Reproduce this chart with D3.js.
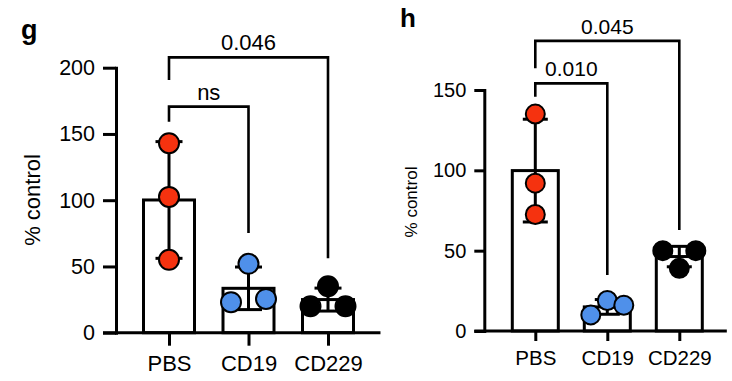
<!DOCTYPE html>
<html>
<head>
<meta charset="utf-8">
<script src="https://cdn.jsdelivr.net/npm/d3@7"></script>
<style>
html,body{margin:0;padding:0;background:#fff;}
svg{display:block;font-family:"Liberation Sans",Arial,Helvetica,sans-serif;}
</style>
</head>
<body>
<svg id="chart" width="732" height="381"></svg>
<script>
// ---------- data ----------
const categories = ["PBS", "CD19", "CD229"];
const yTicksG = [0, 50, 100, 150, 200];
const yTicksH = [0, 50, 100, 150];
// replicate values (% control), panel g
const gPBS = [143, 102.5, 55];
const gCD19 = [52, 23, 25.5];
const gCD229 = [20, 35, 20];
// replicate values (% control), panel h
const hPBS = [135, 92, 72.5];
const hCD19 = [10, 19, 16];
const hCD229 = [50, 39, 50];
// significance brackets: [from, to, yLine, yLeftEnd, yRightEnd, label] in data units
const gBrackets = [["PBS", "CD19", 170.6, 159.2, 75.2, "ns"], ["PBS", "CD229", 207.8, 190.7, 56.2, "0.046"]];
const hBrackets = [["PBS", "CD19", 154.1, 145.8, 34.8, "0.010"], ["PBS", "CD229", 180.6, 163.5, 62.9, "0.045"]];
const dotColors = ["#f5320f", "#4f90ea", "#000000"];

const svg = d3.select("#chart");

function panel(cfg) {
  const g = svg.append("g");
  const y = d3.scaleLinear().domain([0, cfg.yMax]).range([cfg.y0, cfg.yTop]);
  const x = d3.scalePoint().domain(categories).range([cfg.x0, cfg.x1]);
  const step = x.step();
  const sw = 3;

  // panel letter
  g.append("text").attr("x", cfg.letterX).attr("y", cfg.letterY)
    .attr("font-weight", "bold").attr("font-size", cfg.letterSize).text(cfg.letter);

  // bars
  const groups = categories.map((c, i) => ({c, vals: cfg.data[i], color: dotColors[i]}));
  groups.forEach(gr => {
    gr.mean = d3.mean(gr.vals);
    gr.sd = d3.deviation(gr.vals);
  });
  g.selectAll("rect.bar").data(groups).join("rect")
    .attr("x", d => x(d.c) - cfg.barW / 2)
    .attr("y", d => y(d.mean))
    .attr("width", cfg.barW)
    .attr("height", d => y(0) - y(d.mean))
    .attr("fill", "#fff").attr("stroke", "#000").attr("stroke-width", sw);

  // axes
  const yAxis = d3.axisLeft(y).tickValues(cfg.yTicks).tickSize(cfg.tickLen).tickPadding(cfg.tickPad).tickSizeOuter(0);
  const ya = g.append("g").attr("transform", `translate(${cfg.axisX},0)`).call(yAxis);
  ya.select(".domain").attr("stroke-width", sw).attr("stroke-linecap", "square");
  ya.selectAll(".tick line").attr("stroke-width", sw);
  ya.selectAll(".tick text").attr("font-size", cfg.tickFont).attr("fill", "#000")
    .attr("font-family", "Liberation Sans, Arial, sans-serif");

  // x axis line
  g.append("line").attr("x1", cfg.axisX - cfg.tickLen).attr("x2", cfg.x1 + step * 0.66)
    .attr("y1", y(0)).attr("y2", y(0)).attr("stroke", "#000").attr("stroke-width", sw);
  const xAxis = d3.axisBottom(x).tickSize(cfg.tickLen).tickPadding(cfg.xLabPad).tickSizeOuter(0);
  const xa = g.append("g").attr("transform", `translate(0,${y(0)})`).call(xAxis);
  xa.select(".domain").remove();
  xa.selectAll(".tick line").attr("stroke-width", sw);
  xa.selectAll(".tick text").attr("font-size", cfg.xFont).attr("fill", "#000")
    .attr("font-family", "Liberation Sans, Arial, sans-serif");

  // y label
  g.append("text").attr("transform", `translate(${cfg.ylabX},${cfg.ylabY}) rotate(-90)`)
    .attr("text-anchor", "middle").attr("font-size", cfg.ylabFont).text("% control");

  // brackets
  cfg.brackets.forEach(b => {
    const xa1 = x(b[0]), xa2 = x(b[1]);
    const yl = y(b[2]);
    g.append("path")
      .attr("d", `M${xa1},${y(b[3])}V${yl}H${xa2}V${y(b[4])}`)
      .attr("fill", "none").attr("stroke", "#000").attr("stroke-width", 2.6);
    g.append("text").attr("x", (xa1 + xa2) / 2).attr("y", yl - 7)
      .attr("text-anchor", "middle").attr("font-size", cfg.annFont).text(b[5]);
  });

  // error bars (mean ± SD)
  groups.forEach(gr => {
    const cx = x(gr.c);
    const lo = y(gr.mean - gr.sd), hi = y(gr.mean + gr.sd);
    g.append("line").attr("x1", cx).attr("x2", cx).attr("y1", lo).attr("y2", hi)
      .attr("stroke", "#000").attr("stroke-width", sw);
    [lo, hi].forEach(yy => g.append("line")
      .attr("x1", cx - cfg.capW / 2).attr("x2", cx + cfg.capW / 2)
      .attr("y1", yy).attr("y2", yy).attr("stroke", "#000").attr("stroke-width", sw));
  });

  // dots with row-based spreading (points closer than a diameter share a row)
  groups.forEach(gr => {
    const idx = d3.range(gr.vals.length).sort((a, b) => gr.vals[a] - gr.vals[b]);
    const rows = [];
    idx.forEach((k, j) => {
      if (j > 0 && Math.abs(y(gr.vals[k]) - y(gr.vals[idx[j - 1]])) < cfg.r * 2) rows[rows.length - 1].push(k);
      else rows.push([k]);
    });
    const pts = [];
    rows.forEach(row => {
      row.sort((a, b) => a - b);
      const n = row.length;
      row.forEach((k, j) => {
        let off;
        if (n === 1) off = 0;
        else if (n === 2) off = j === 0 ? -1 : 1;
        else off = j - (n - 1) / 2;
        pts.push({v: gr.vals[k], dx: off * cfg.spread});
      });
    });
    g.selectAll(null).data(pts).join("circle")
      .attr("cx", d => x(gr.c) + d.dx).attr("cy", d => y(d.v)).attr("r", cfg.r)
      .attr("fill", gr.color).attr("stroke", "#000").attr("stroke-width", 2);
  });
}

panel({
  letter: "g", letterX: 21, letterY: 39, letterSize: 27,
  data: [gPBS, gCD19, gCD229], yMax: 200, yTicks: yTicksG,
  y0: 332.7, yTop: 67.7, x0: 169, x1: 328, axisX: 116,
  barW: 51, capW: 27, r: 10, spread: 17.5,
  tickLen: 13, tickPad: 8, tickFont: 21.5, xFont: 22, xLabPad: 10, annFont: 22,
  ylabX: 40, ylabY: 200, ylabFont: 22, brackets: gBrackets
});
panel({
  letter: "h", letterX: 400, letterY: 27, letterSize: 26,
  data: [hPBS, hCD19, hCD229], yMax: 150, yTicks: yTicksH,
  y0: 331, yTop: 90, x0: 535.3, x1: 679.3, axisX: 484.3,
  barW: 46, capW: 25, r: 9.5, spread: 16.5,
  tickLen: 10, tickPad: 8, tickFont: 20, xFont: 20.5, xLabPad: 9, annFont: 21,
  ylabX: 417, ylabY: 202, ylabFont: 17, brackets: hBrackets
});
</script>
</body>
</html>
